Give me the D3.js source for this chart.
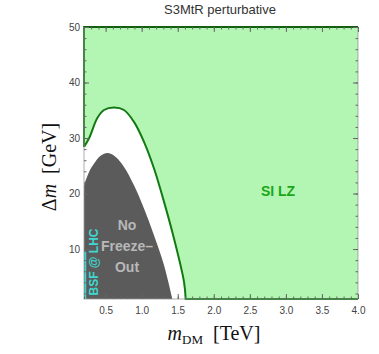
<!DOCTYPE html>
<html>
<head>
<meta charset="utf-8">
<script src="https://cdn.jsdelivr.net/npm/d3@7"></script>
<style>
  body { margin: 0; background: #fff; }
  svg { display: block; }
  .tick text { font-family: "Liberation Sans", Arial, sans-serif; font-size: 10px; fill: #444; }
  .tick line { stroke: #666; }
</style>
</head>
<body>
<div id="chart"></div>
<script>
// === DATA ===
const title = 'S3MtR perturbative'

// upper boundary of the white band (SI LZ exclusion edge)
const lzX = [0.2, 0.27, 0.385, 0.477, 0.616, 0.755, 0.893, 1.032, 1.171, 1.31, 1.448, 1.587, 1.61]
const lzY = [28.4, 29.95, 33.6, 35.05, 35.5, 35.05, 32.9, 29.3, 24.5, 18.5, 11.9, 4.1, 1]

// top of the "No Freeze-Out" region
const nfoX = [0.2, 0.27, 0.34, 0.43, 0.533, 0.64, 0.755, 0.893, 1.032, 1.17, 1.31, 1.425]
const nfoY = [21.5, 23.9, 25.4, 26.8, 27.3, 26.6, 24.8, 21.5, 17.3, 12.5, 7.1, 1]

// BSF @ LHC sliver along the left edge
const bsfX = [0.2, 0.21]
const bsfY = [1, 9.5]

const xMajor = [0.5, 1.0, 1.5, 2.0, 2.5, 3.0, 3.5, 4.0]
const yMajor = [10, 20, 30, 40, 50]
const xMinor = d3.range(2, 41).map(d => d / 10)
const yMinor = d3.range(2, 51, 2)

// === LAYOUT ===
const W = 379, H = 354
const x = d3.scaleLinear([0.2, 4], [84, 358])
const y = d3.scaleLinear([1, 50], [299, 27])

const svg = d3.select('#chart').append('svg')
    .attr('width', W)
    .attr('height', H)

const pts = (xs, ys) => xs.map((d, i) => [d, ys[i]])
const line = d3.line().x(d => x(d[0])).y(d => y(d[1])).curve(d3.curveCatmullRom)

// background: everything green (SI LZ excluded)
svg.append('rect')
    .attr('x', x(0.2)).attr('y', y(50))
    .attr('width', x(4) - x(0.2)).attr('height', y(1) - y(50))
    .attr('fill', '#b3f6b3')

// white allowed band under the LZ curve
const lzPts = pts(lzX, lzY)
svg.append('path')
    .attr('d', line(lzPts) + `L${x(0.2)},${y(1)}Z`)
    .attr('fill', '#fff')

// No Freeze-Out region
svg.append('path')
    .attr('d', line(pts(nfoX, nfoY)) + `L${x(0.2)},${y(1)}Z`)
    .attr('fill', '#5b5b5b')

// BSF sliver
svg.append('rect')
    .attr('x', x(bsfX[0])).attr('y', y(bsfY[1]))
    .attr('width', x(bsfX[1]) - x(bsfX[0])).attr('height', y(bsfY[0]) - y(bsfY[1]))
    .attr('fill', '#3fd2cc').attr('opacity', 0.8)
svg.append('line')
    .attr('x1', x(bsfX[0]) + 1.5).attr('x2', x(bsfX[0]) + 1.5)
    .attr('y1', y(bsfY[0])).attr('y2', y(bsfY[1]))
    .attr('stroke', '#36d6cf').attr('stroke-width', 1.5)

// LZ boundary line (plus region edge along top/left/bottom)
svg.append('path')
    .attr('d', `M${x(4)},${y(50)}L${x(0.2)},${y(50)}L${x(0.2)},${y(lzY[0])}` +
        line(lzPts).replace(/^M/, 'L') + `L${x(4)},${y(1)}`)
    .attr('fill', 'none')
    .attr('stroke', '#127a12')
    .attr('stroke-width', 2)

// frame
svg.append('rect')
    .attr('x', x(0.2)).attr('y', y(50))
    .attr('width', x(4) - x(0.2)).attr('height', y(1) - y(50))
    .attr('fill', 'none').attr('stroke', '#999').attr('stroke-width', 0.8)
svg.append('path')
    .attr('d', `M${x(4)},${y(50)}L${x(0.2)},${y(50)}`)
    .attr('stroke', '#0f5f0f').attr('stroke-width', 2)

// === AXES ===
const addAxis = (axis, tx, ty, labels) => {
    const g = svg.append('g').attr('transform', `translate(${tx},${ty})`).call(axis)
    g.select('.domain').remove()
    if (!labels) g.selectAll('text').remove()
    return g
}

addAxis(d3.axisBottom(x).tickValues(xMajor).tickSize(-5).tickPadding(8).tickFormat(d3.format('.1f')), 0, y(1), true)
addAxis(d3.axisBottom(x).tickValues(xMinor).tickSize(-2.5), 0, y(1), false)
addAxis(d3.axisTop(x).tickValues(xMajor).tickSize(-5), 0, y(50), false)
addAxis(d3.axisTop(x).tickValues(xMinor).tickSize(-2.5), 0, y(50), false)

addAxis(d3.axisLeft(y).tickValues(yMajor).tickSize(-5).tickPadding(4), x(0.2), 0, true)
addAxis(d3.axisLeft(y).tickValues(yMinor).tickSize(-2.5), x(0.2), 0, false)
addAxis(d3.axisRight(y).tickValues(yMajor).tickSize(-5), x(4), 0, false)
addAxis(d3.axisRight(y).tickValues(yMinor).tickSize(-2.5), x(4), 0, false)

// === TEXT ===
svg.append('text')
    .attr('x', 220).attr('y', 14)
    .attr('text-anchor', 'middle')
    .attr('font-family', 'Liberation Sans, Arial, sans-serif')
    .attr('font-size', 13)
    .attr('fill', '#333')
    .text(title)

const serif = 'Liberation Serif, Times New Roman, serif'

const xl = svg.append('text')
    .attr('x', 214).attr('y', 340)
    .attr('text-anchor', 'middle')
    .attr('font-family', serif)
    .attr('font-size', 20)
    .attr('fill', '#111')
xl.append('tspan').attr('font-style', 'italic').text('m')
xl.append('tspan').attr('font-size', 13).attr('dy', 4).text('DM')
xl.append('tspan').attr('dy', -4).text('\u2002[TeV]')

const yl = svg.append('text')
    .attr('transform', 'translate(56,167) rotate(-90)')
    .attr('text-anchor', 'middle')
    .attr('font-family', serif)
    .attr('font-size', 20)
    .attr('fill', '#111')
yl.append('tspan').text('Δ')
yl.append('tspan').attr('font-style', 'italic').text('m')
yl.append('tspan').text('\u2002[GeV]')

svg.append('text')
    .attr('x', 278).attr('y', 196)
    .attr('text-anchor', 'middle')
    .attr('font-family', 'Liberation Sans, Arial, sans-serif')
    .attr('font-weight', 'bold')
    .attr('font-size', 14)
    .attr('fill', '#1aa61a')
    .text('SI LZ')

const nfo = ['No', 'Freeze–', 'Out']
svg.append('g').selectAll('text')
    .data(nfo)
    .join('text')
    .attr('x', 127)
    .attr('y', (d, i) => 230 + i * 21)
    .attr('text-anchor', 'middle')
    .attr('font-family', 'Liberation Sans, Arial, sans-serif')
    .attr('font-weight', 'bold')
    .attr('font-size', 14)
    .attr('fill', '#b8b8b8')
    .text(d => d)

svg.append('text')
    .attr('transform', 'translate(97.5,262) rotate(-90)')
    .attr('text-anchor', 'middle')
    .attr('font-family', 'Liberation Sans, Arial, sans-serif')
    .attr('font-weight', 'bold')
    .attr('font-size', 12)
    .attr('fill', '#3ed8d2')
    .text('BSF @ LHC')
</script>
</body>
</html>
